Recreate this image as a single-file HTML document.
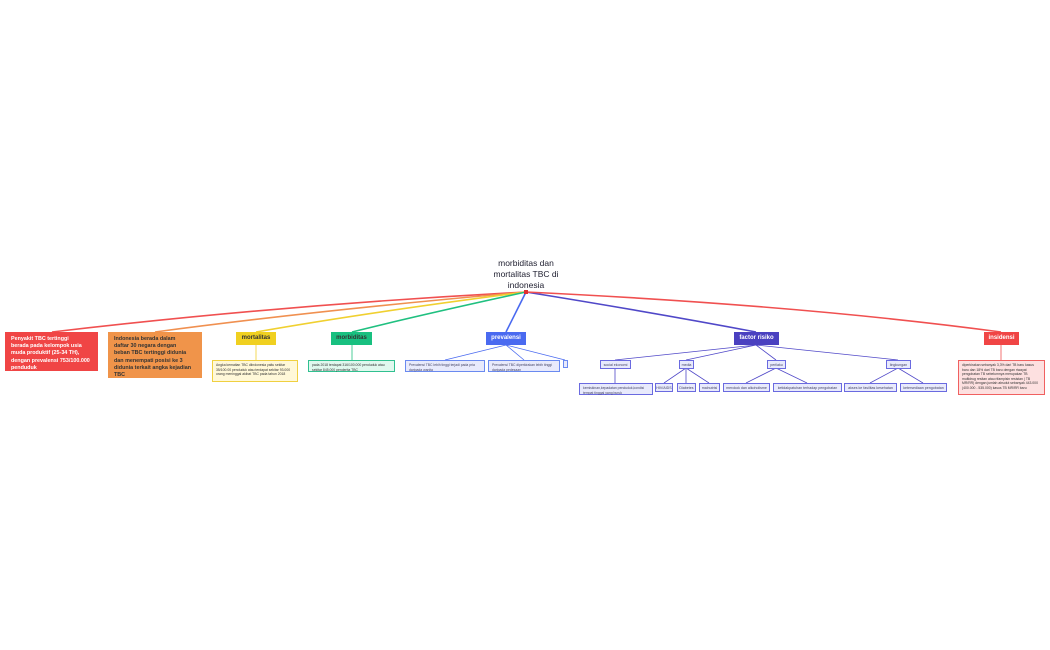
<!DOCTYPE html>
<html><head><meta charset="utf-8"><style>
body{margin:0;width:1050px;height:650px;background:#fff;position:relative;overflow:hidden;font-family:"Liberation Sans",sans-serif}
.n{position:absolute;box-sizing:border-box;line-height:1.25;color:#333}
.t{position:absolute;left:476px;top:258px;width:100px;text-align:center;font-size:8.5px;color:#223;line-height:11px}
.big{font-size:5.4px;font-weight:bold;padding:4px 4px 0 6px;line-height:7.2px;white-space:nowrap}
.h{font-size:6px;font-weight:bold;text-align:center;line-height:13px;height:13px}
.s{font-size:3.4px;padding:2px 3px;line-height:4.6px;border:1px solid}
.b{background:#e8eafc;border:1px solid #6a6ae0;color:#446}
.lf{font-size:3.6px;text-align:center;line-height:8px;height:9px}
</style></head><body>
<svg width="1050" height="650" style="position:absolute;left:0;top:0">
<g fill="none" stroke-width="1.6">
<path d="M526 292 Q280 305 52 332" stroke="#f05050"/>
<path d="M526 292 Q320 310 155 332" stroke="#f09050"/>
<path d="M526 292 Q370 312 256 332" stroke="#f0d030"/>
<path d="M526 292 Q420 315 352 332" stroke="#20c080"/>
<path d="M526 292 L506 332" stroke="#4a6af0"/>
<path d="M526 292 Q650 312 756 332" stroke="#5048c8"/>
<path d="M526 292 Q800 305 1001 332" stroke="#f05050"/>
<g stroke-width="0.8">
<path d="M256 345V360" stroke="#f0d030"/><path d="M352 345V360" stroke="#20c080"/>
<path d="M1001 345V360" stroke="#f05050"/>
<path d="M506 345L445 360M506 345L524 360M506 345L565 360" stroke="#4a6af0"/>
<path d="M756 345L615 360M756 345L686 360M756 345L776 360M756 345L898 360" stroke="#5048c8"/>
<path d="M615 368V383M686 368L664 383M686 368L686 383M686 368L709 383M776 368L746 383M776 368L807 383M898 368L870 383M898 368L923 383" stroke="#5048c8"/>
</g></g>
<rect x="524" y="290" width="4" height="4" fill="#e03030"/>
</svg>
<div class="t">morbiditas dan<br>mortalitas TBC di<br>indonesia</div>
<div class="n big" style="left:5px;top:332px;width:93px;height:39px;background:#f04545;color:#fff">Penyakit TBC tertinggi<br>berada pada kelompok usia<br>muda produktif (25-34 TH),<br>dengan prevalensi 753/100.000<br>penduduk</div>
<div class="n big" style="left:108px;top:332px;width:94px;height:46px;background:#f0944a;color:#333">Indonesia berada dalam<br>daftar 30 negara dengan<br>beban TBC tertinggi didunia<br>dan menempati posisi ke 3<br>didunia terkait angka kejadian<br>TBC</div>
<div class="n h" style="left:236px;top:332px;width:40px;background:#f0d020">mortalitas</div>
<div class="n s" style="left:212px;top:360px;width:86px;height:22px;background:#fff8d8;border-color:#f0d040">Angka kematian TBC diindonesia yaitu sekitar 35/100.00 penduduk atau terdapat sekitar 93.000 orang meninggal akibat TBC pada tahun 2018</div>
<div class="n h" style="left:331px;top:332px;width:41px;background:#18c080">morbiditas</div>
<div class="n s" style="left:308px;top:360px;width:87px;height:12px;background:#e0f8ee;border-color:#30c090">pada 2018 terdapat 316/100.000 penduduk atau sekitar 845.000 penderita TBC</div>
<div class="n h" style="left:486px;top:332px;width:40px;background:#4a6af0;color:#fff">prevalensi</div>
<div class="n s b" style="left:405px;top:360px;width:80px;height:12px;border-color:#6a8af0">Prevalensi TBC lebih tinggi terjadi pada pria daripada wanita</div>
<div class="n s b" style="left:488px;top:360px;width:72px;height:12px;border-color:#6a8af0">Prevalensi TBC diperkirakan lebih tinggi daripada pedesaan</div>
<div class="n b" style="left:563px;top:360px;width:5px;height:8px;border-color:#6a8af0"></div>
<div class="n h" style="left:734px;top:332px;width:45px;background:#4a40c0;color:#fff">factor risiko</div>
<div class="n b lf" style="left:600px;top:360px;width:31px">social ekonomi</div>
<div class="n b lf" style="left:679px;top:360px;width:15px">media</div>
<div class="n b lf" style="left:767px;top:360px;width:19px">perilaku</div>
<div class="n b lf" style="left:886px;top:360px;width:25px">lingkungan</div>
<div class="n s b" style="left:579px;top:383px;width:74px;height:12px">kemiskinan,kepadatan penduduk,kondisi tempat tinggal yang buruk</div>
<div class="n b lf" style="left:655px;top:383px;width:18px">HIV/AIDS</div>
<div class="n b lf" style="left:677px;top:383px;width:19px">Diabetes</div>
<div class="n b lf" style="left:699px;top:383px;width:21px">malnutrisi</div>
<div class="n b lf" style="left:723px;top:383px;width:47px">merokok dan alkoholisme</div>
<div class="n b lf" style="left:773px;top:383px;width:69px">ketidakpatuhan terhadap pengobatan</div>
<div class="n b lf" style="left:844px;top:383px;width:53px">akses ke fasilitas kesehatan</div>
<div class="n b lf" style="left:900px;top:383px;width:47px">ketersediaan pengobatan</div>
<div class="n h" style="left:984px;top:332px;width:35px;background:#f04545;color:#fff">insidensi</div>
<div class="n s" style="left:958px;top:360px;width:87px;height:35px;background:#fde0e0;border-color:#f06060">diperkirakan sebanyak 3,3% dari TB baru kasus baru dan 18% dari TB baru dengan riwayat pengobatan TB sebelumnya merupakan TB multidrug resitan atau rifampisin resistan ( TB MR/RR) dengan jumlah absolut sebanyak 443.000 (400.000 - 535.000) kasus TB MR/RR baru</div>
</body></html>
